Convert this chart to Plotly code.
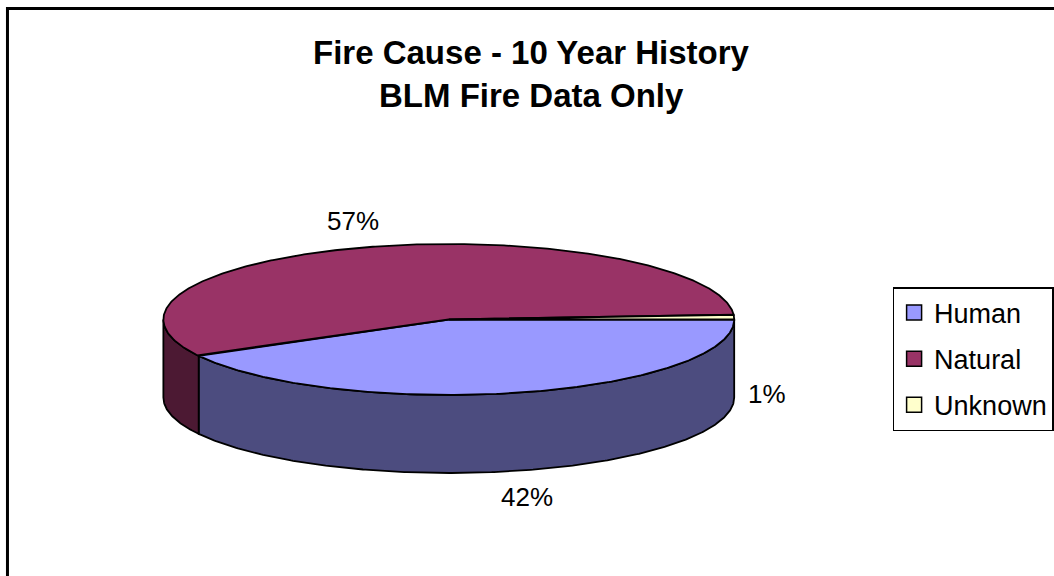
import numpy as np
import plotly.graph_objects as go

# ---- data ----
categories = ["Human", "Natural", "Unknown"]
values = [42, 57, 1]
top_colors = ["#9999FF", "#993366", "#FFFFCC"]
title_lines = ["Fire Cause - 10 Year History", "BLM Fire Data Only"]

# ---- geometry (pixel-like layout space) ----
W, H = 1054, 576
cx, cy = 450.5, 319.5
rx, ry = 286.5, 75.5
depth = 78
FONT = "Liberation Sans, Arial, sans-serif"


def darken(hexc, f=0.5):
    h = hexc.lstrip("#")
    r, g, b = (int(h[i:i + 2], 16) for i in (0, 2, 4))
    return "#%02X%02X%02X" % (int(r * f), int(g * f), int(b * f))


def arc(a, b, n=None, dy=0.0):
    if n is None:
        n = max(4, int(abs(b - a) * 2))
    t = np.radians(np.linspace(a, b, n))
    return cx + rx * np.cos(t), cy + ry * np.sin(t) + dy


total = float(sum(values))
angles = np.concatenate([[0.0], np.cumsum(values) / total * 360.0])

fig = go.Figure()

# side walls (front half only: 0..180 degrees)
for i, cat in enumerate(categories):
    a, b = angles[i], angles[i + 1]
    lo, hi = max(a, 0.0), min(b, 180.0)
    if hi <= lo:
        continue
    xt, yt = arc(lo, hi)
    xb, yb = arc(hi, lo, dy=depth)
    xs = np.concatenate([xt, xb, xt[:1]])
    ys = np.concatenate([yt, yb, yt[:1]])
    fig.add_trace(go.Scatter(
        x=xs, y=ys, mode="lines", fill="toself",
        fillcolor=darken(top_colors[i]),
        line=dict(color="black", width=1.8),
        hoverinfo="skip", showlegend=False))

# top faces
for i, cat in enumerate(categories):
    a, b = angles[i], angles[i + 1]
    xa, ya = arc(a, b)
    xs = np.concatenate([[cx], xa, [cx]])
    ys = np.concatenate([[cy], ya, [cy]])
    fig.add_trace(go.Scatter(
        x=xs, y=ys, mode="lines", fill="toself",
        fillcolor=top_colors[i],
        line=dict(color="black", width=1.8),
        name=cat, hoverinfo="skip", showlegend=False))

# legend entries
for i, cat in enumerate(categories):
    fig.add_trace(go.Scatter(
        x=[None], y=[None], mode="markers", name=cat,
        legendgroup=cat,
        marker=dict(symbol="square", size=15, color=top_colors[i],
                    line=dict(color="black", width=1.5))))

# percentage labels
annotations = []
for i, cat in enumerate(categories):
    mid = np.radians((angles[i] + angles[i + 1]) / 2)
    c, s = np.cos(mid), np.sin(mid)
    pct = "%d%%" % round(values[i] / total * 100)
    y = cy + (ry + 27) * s + (depth if s > -0.5 else 0)
    if c > 0.7:
        x = cx + rx * c + 12
        xanchor = "left"
    elif c < -0.7:
        x = cx + rx * c - 12
        xanchor = "right"
    else:
        x = cx + (rx + 45) * c - 4
        xanchor = "center"
    annotations.append(dict(
        x=x, y=y, xref="x", yref="y", text=pct, showarrow=False,
        xanchor=xanchor, yanchor="middle",
        font=dict(family=FONT, size=26, color="black")))

# title lines
for j, line in enumerate(title_lines):
    annotations.append(dict(
        x=534 / W, y=1 - (53 + 43 * j) / H, xref="paper", yref="paper",
        text="<b>%s</b>" % line, showarrow=False,
        xanchor="center", yanchor="middle",
        font=dict(family=FONT, size=33, color="black")))

fig.update_layout(
    width=W, height=H,
    margin=dict(l=0, r=0, t=0, b=0),
    paper_bgcolor="white", plot_bgcolor="white",
    xaxis=dict(range=[0, W], visible=False, fixedrange=True),
    yaxis=dict(range=[H, 0], visible=False, fixedrange=True),
    annotations=annotations,
    showlegend=True,
    legend=dict(
        x=896 / W, y=1 - 287 / H, xanchor="left", yanchor="top",
        bordercolor="black", borderwidth=1.5, bgcolor="white",
        font=dict(family=FONT, size=27, color="black"),
        tracegroupgap=8, itemwidth=30,
        traceorder="grouped"),
    shapes=[dict(type="rect", xref="paper", yref="paper",
                 x0=7.5 / W, y0=-0.02, x1=1.02, y1=1 - 8.5 / H,
                 line=dict(color="black", width=3))],
)

fig.write_html(
    "out.html",
    config={"displayModeBar": False},
    post_script="document.body.style.margin='0';document.body.style.overflow='hidden';",
)
